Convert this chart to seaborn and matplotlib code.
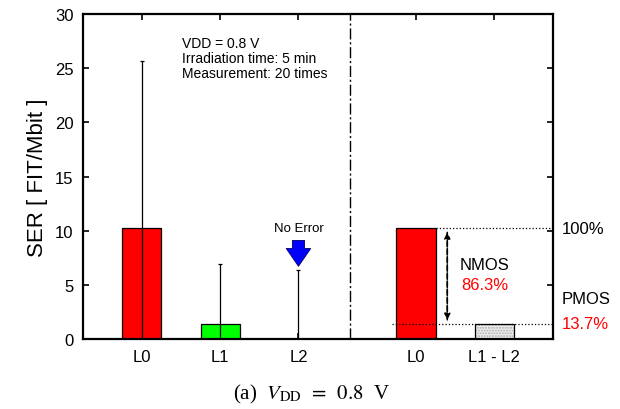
import matplotlib
matplotlib.use("Agg")
import matplotlib.pyplot as plt
import seaborn as sns
import pandas as pd

sns.set_theme(style="white")
plt.rcParams['font.family'] = ['Liberation Sans', 'DejaVu Sans']
plt.rcParams['mathtext.fontset'] = 'stix'
for k in ['text.color', 'axes.labelcolor', 'xtick.color', 'ytick.color', 'axes.edgecolor']:
    plt.rcParams[k] = 'black'

# ---- data ----
categories = ["L0", "L1", "L2", "L0", "L1 - L2"]
ser_values = [10.2, 1.4, 0.0, 10.2, 1.4]
err_upper = [25.7, 6.9, 6.4, None, None]
bar_colors = ["#ff0000", "#00ff00", "#ffffff", "#ff0000", "#f2f2f2"]
annot_lines = ["VDD = 0.8 V", "Irradiation time: 5 min", "Measurement: 20 times"]
nmos_pct = "86.3%"
pmos_pct = "13.7%"
total_pct = "100%"

# layout positions (not data)
positions = [0, 1, 2, 3.5, 4.5]
divider_x = 2.66

df = pd.DataFrame({"pos": positions, "ser": ser_values, "cat": categories})

fig = plt.figure(figsize=(6.2, 4.1), dpi=100)
ax = fig.add_axes([0.134, 0.171, 0.758, 0.792])

sns.barplot(data=df, x="pos", y="ser", native_scale=True, width=0.5,
            palette=bar_colors, hue="pos", legend=False, saturation=1,
            edgecolor="black", linewidth=0.9, ax=ax, zorder=2)

# hatch for L1-L2 bar
last = ax.patches[-1]
last.set_hatch("......")
last.set_edgecolor("#aaaaaa")
last.set_linewidth(0)
ax.bar(positions[4], ser_values[4], width=0.5, facecolor="none",
       edgecolor="black", linewidth=0.9, zorder=3)

# error bars (drawn from 0 to upper)
for p, v, u in zip(positions, ser_values, err_upper):
    if u is None:
        continue
    ax.errorbar(p, v, yerr=[[v], [u - v]], fmt="none", ecolor="black",
                elinewidth=0.9, capsize=1.5, capthick=0.9, zorder=4)

# divider
ax.axvline(divider_x, color="black", lw=1.0, ls=(0, (8, 2, 1.5, 2)), zorder=1)

# dotted reference lines
ax.plot([positions[3] + 0.26, 5.25], [ser_values[3]] * 2, ls=":", color="black", lw=0.9, zorder=1)
ax.plot([positions[3] - 0.3, 5.25], [ser_values[4]] * 2, ls=":", color="black", lw=0.9, zorder=5)

# dashed double arrow
ax.annotate("", xy=(3.9, ser_values[4] + 0.1), xytext=(3.9, ser_values[3] - 0.1),
            arrowprops=dict(arrowstyle="-|>", ls="--", lw=1.1, color="black", mutation_scale=9))
ax.annotate("", xy=(3.9, ser_values[3] - 0.1), xytext=(3.9, ser_values[4] + 0.1),
            arrowprops=dict(arrowstyle="-|>", ls="--", lw=1.1, color="black", mutation_scale=9))

ax.text(4.38, 6.9, "NMOS", ha="center", va="center", fontsize=12)
ax.text(4.38, 5.0, nmos_pct, ha="center", va="center", fontsize=12, color="red")

ax.text(5.36, ser_values[3], total_pct, ha="left", va="center", fontsize=12, clip_on=False)
ax.text(5.36, 3.7, "PMOS", ha="left", va="center", fontsize=12, clip_on=False)
ax.text(5.36, 1.4, pmos_pct, ha="left", va="center", fontsize=12, color="red", clip_on=False)

# No Error arrow
ax.text(2, 10.2, "No Error", ha="center", va="center", fontsize=9.5)
ax.annotate("", xy=(2, 6.45), xytext=(2, 9.35),
            arrowprops=dict(arrowstyle="simple,head_width=1.1,head_length=0.8,tail_width=0.55",
                            fc="#0000ff", ec="#000066", lw=0.6, mutation_scale=16))

# condition text
ax.text(0.51, 28.0, "\n".join(annot_lines), ha="left", va="top", fontsize=10, linespacing=1.1)

ax.set_xlim(-0.75, 5.25)
ax.set_ylim(0, 30)
ax.set_yticks(range(0, 31, 5))
ax.set_xticks(positions)
ax.set_xticklabels(categories, fontsize=12)
ax.tick_params(axis="y", labelsize=12, pad=7)
ax.tick_params(axis="x", pad=7)
ax.tick_params(direction="in", length=4, width=1.2, top=True, right=True,
               left=True, bottom=True, colors="black")
ax.set_xlabel("")
ax.set_ylabel("SER [ FIT/Mbit ]", fontsize=16, labelpad=5)
for s in ax.spines.values():
    s.set_linewidth(1.6)
    s.set_color("black")

fig.text(0.503, 0.037, r"(a)  $V_{\mathrm{DD}}\ \,=\ \,0.8$  V", ha="center", va="center",
         fontsize=15, family=["Liberation Serif", "DejaVu Serif"])

fig.savefig("out.png", dpi=100)
